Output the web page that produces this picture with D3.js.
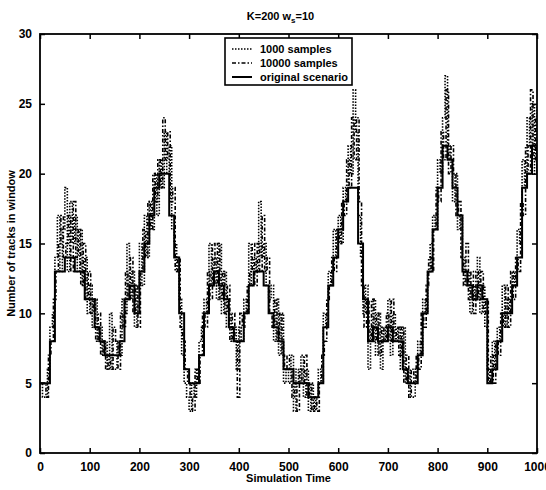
<!DOCTYPE html>
<html>
<head>
<meta charset="utf-8">
<script src="https://cdn.jsdelivr.net/npm/d3@7"></script>
<style>
  body { margin: 0; background: #fff; }
  svg text { font-family: "Liberation Sans", Arial, sans-serif; font-weight: bold; fill: #000; }
</style>
</head>
<body>
<div id="chart"></div>
<script>
// original scenario, one value every 10 time units (t = 0..1000)
var origT = d3.range(0, 1001, 10);
var origVals = [5,5,8,13,13,14,14,13,13,11,
  11,9,8,7,7,7,8,11,12,10,
  13,15,17,19,20,20,17,14,10,6,
  5,5,7,10,12,13,12,11,9,8,
  8,10,12,13,13,12,10,9,8,6,
  6,5,5,5,4,4,5,9,12,14,
  16,18,19,19,15,11,8,9,8,8,
  9,8,8,6,5,5,7,10,13,16,
  19,22,21,19,17,13,12,11,12,11,
  5,6,8,10,10,12,14,19,20,22,
  20];

// estimates, one value every 5 time units (t = 0..1000)
var sampT = d3.range(0, 1001, 5);
var samples1000 = [5,4,4,6,9,10,14,17,13,16,
  19,13,18,15,17,13,16,12,14,10,
  12,9,11,8,9,7,8,6,10,6,
  6,8,7,11,10,15,11,13,9,12,
  15,12,17,14,18,16,20,17,21,19,
  23,20,22,16,15,13,11,7,5,4,
  3,5,4,6,8,9,11,10,15,12,
  14,11,15,10,13,9,10,8,9,6,
  9,8,11,10,15,12,14,13,18,14,
  15,12,11,12,8,11,7,10,5,6,
  5,7,3,6,5,7,4,6,3,5,
  3,4,6,5,10,9,13,12,16,14,
  17,15,19,18,22,20,26,23,17,14,
  10,12,6,9,11,7,10,6,9,8,
  11,7,10,8,9,6,9,5,6,4,
  4,6,8,7,11,10,13,15,17,16,
  21,20,24,27,22,21,18,20,16,17,
  14,12,13,10,12,11,14,10,12,9,
  6,5,8,6,9,8,12,9,11,10,
  13,12,16,15,21,19,24,22,25,20,
  25];
var samples10000 = [5,5,4,7,8,11,13,15,17,14,
  15,17,13,18,14,16,12,15,11,13,
  10,11,8,10,7,8,6,7,6,9,
  8,6,10,9,13,11,14,10,12,9,
  13,16,14,18,16,20,18,21,19,24,
  21,23,18,19,13,14,9,8,6,5,
  4,3,6,5,7,10,9,13,11,15,
  12,15,11,13,10,12,8,10,8,4,
  10,9,10,12,13,15,12,15,13,17,
  13,14,10,9,11,8,10,7,6,7,
  6,4,5,3,6,5,7,4,5,3,
  4,3,5,7,8,11,12,14,13,16,
  15,18,17,21,19,24,21,24,18,12,
  9,11,8,11,8,10,7,9,8,10,
  8,11,8,9,7,9,5,7,4,6,
  5,7,6,10,9,12,14,13,16,19,
  18,23,21,26,20,22,20,17,18,14,
  12,15,11,13,10,13,11,13,10,11,
  5,7,5,8,7,10,9,12,9,13,
  11,14,13,18,17,22,20,26,21,24,
  23];

var xTicks = d3.range(0, 1001, 100);
var yTicks = d3.range(0, 31, 5);
var legendNames = ["1000 samples", "10000 samples", "original scenario"];

var W = 546, H = 490;
var pL = 40, pR = 537, pT = 34, pB = 453;

var svg = d3.select("#chart").append("svg")
    .attr("width", W)
    .attr("height", H);

var x = d3.scaleLinear().domain([0, 1000]).range([pL, pR]);
var y = d3.scaleLinear().domain([0, 30]).range([pB, pT]);

svg.append("clipPath").attr("id", "plotclip")
  .append("rect")
    .attr("x", pL).attr("y", pT)
    .attr("width", pR - pL).attr("height", pB - pT);

var line = d3.line()
    .x(function(d) { return x(d[0]); })
    .y(function(d) { return y(d[1]); })
    .curve(d3.curveStepAfter);

var plot = svg.append("g").attr("clip-path", "url(#plotclip)");

// dotted estimate (1000 samples)
plot.append("path")
    .datum(d3.zip(sampT, samples1000))
    .attr("d", line)
    .attr("fill", "none")
    .attr("stroke", "#000")
    .attr("stroke-width", 1.6)
    .attr("stroke-dasharray", "1.5,1.5");

// dash-dot estimate (10000 samples)
plot.append("path")
    .datum(d3.zip(sampT.map(function(t) { return t + 2; }), samples10000))
    .attr("d", line)
    .attr("fill", "none")
    .attr("stroke", "#000")
    .attr("stroke-width", 1.6)
    .attr("stroke-dasharray", "4,2,1.5,2");

// original scenario, solid
plot.append("path")
    .datum(d3.zip(origT, origVals))
    .attr("d", line)
    .attr("fill", "none")
    .attr("stroke", "#000")
    .attr("stroke-width", 2);

// axes: ticks inside on all four sides
svg.append("g")
    .attr("transform", "translate(0," + pB + ")")
    .call(d3.axisBottom(x).tickValues(xTicks).tickFormat(d3.format("d")).tickSizeInner(-5).tickSizeOuter(0).tickPadding(9))
    .call(function(g) { g.select(".domain").remove(); });
svg.append("g")
    .attr("transform", "translate(0," + pT + ")")
    .call(d3.axisTop(x).tickValues(xTicks).tickSizeInner(-5).tickSizeOuter(0).tickFormat(""))
    .call(function(g) { g.select(".domain").remove(); });
svg.append("g")
    .attr("transform", "translate(" + pL + ",0)")
    .call(d3.axisLeft(y).tickValues(yTicks).tickSizeInner(-5).tickSizeOuter(0).tickPadding(8))
    .call(function(g) { g.select(".domain").remove(); });
svg.append("g")
    .attr("transform", "translate(" + pR + ",0)")
    .call(d3.axisRight(y).tickValues(yTicks).tickSizeInner(-5).tickSizeOuter(0).tickFormat(""))
    .call(function(g) { g.select(".domain").remove(); });

svg.selectAll(".tick line").attr("stroke", "#000").attr("stroke-width", 1.5);
svg.selectAll(".tick text").attr("font-size", 12);

svg.append("rect")
    .attr("x", pL).attr("y", pT)
    .attr("width", pR - pL).attr("height", pB - pT)
    .attr("fill", "none")
    .attr("stroke", "#000")
    .attr("stroke-width", 1.8);

// title with subscript
var title = svg.append("text")
    .attr("x", (pL + pR) / 2 - 8)
    .attr("y", 20)
    .attr("text-anchor", "middle")
    .attr("font-size", 11);
title.append("tspan").text("K=200 w");
title.append("tspan").attr("font-size", 8).attr("dy", 3).text("s");
title.append("tspan").attr("dy", -3).text("=10");

svg.append("text")
    .attr("x", (pL + pR) / 2)
    .attr("y", 482)
    .attr("text-anchor", "middle")
    .attr("font-size", 11)
    .text("Simulation Time");

svg.append("text")
    .attr("transform", "translate(15," + ((pT + pB) / 2) + ") rotate(-90)")
    .attr("text-anchor", "middle")
    .attr("font-size", 11)
    .text("Number of tracks in window");

// legend
var lg = svg.append("g");
lg.append("rect")
    .attr("x", 225).attr("y", 38)
    .attr("width", 127).attr("height", 47)
    .attr("fill", "#fff")
    .attr("stroke", "#000")
    .attr("stroke-width", 1.6);
var dashes = ["1.5,1.5", "4,2,1.5,2", null];
legendNames.forEach(function(name, i) {
  var ly = 49 + i * 14;
  var l = lg.append("line")
      .attr("x1", 232).attr("x2", 252)
      .attr("y1", ly).attr("y2", ly)
      .attr("stroke", "#000")
      .attr("stroke-width", i === 2 ? 2 : 1.6);
  if (dashes[i]) l.attr("stroke-dasharray", dashes[i]);
  lg.append("text")
      .attr("x", 260).attr("y", ly + 4)
      .attr("font-size", 11)
      .text(name);
});
</script>
</body>
</html>
